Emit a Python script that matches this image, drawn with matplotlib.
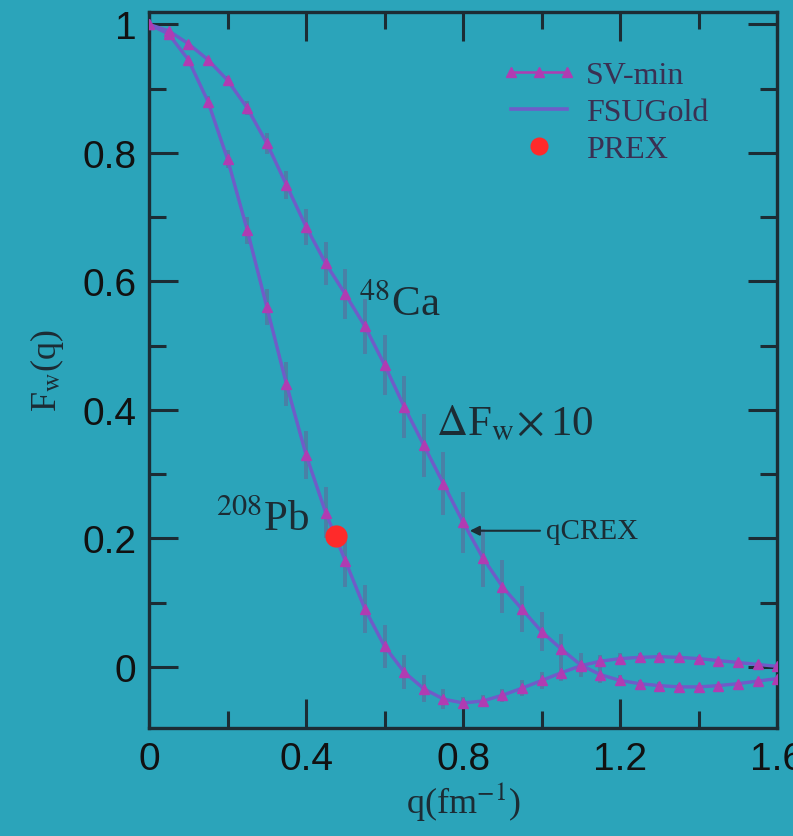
import numpy as np
import matplotlib
matplotlib.use("Agg")
import matplotlib.pyplot as plt
from matplotlib.ticker import MultipleLocator
from matplotlib.legend_handler import HandlerLine2D

# momentum transfer grid (fm^-1)
q_grid = [0.00, 0.05, 0.10, 0.15, 0.20, 0.25, 0.30, 0.35, 0.40, 0.45, 0.50,
          0.55, 0.60, 0.65, 0.70, 0.75, 0.80, 0.85, 0.90, 0.95, 1.00, 1.05,
          1.10, 1.15, 1.20, 1.25, 1.30, 1.35, 1.40, 1.45, 1.50, 1.55, 1.60]

# weak form factor of 208Pb
fw_pb = [1.000, 0.985, 0.945, 0.880, 0.790, 0.680, 0.560, 0.440, 0.330, 0.240, 0.165,
         0.090, 0.032, -0.008, -0.034, -0.050, -0.056, -0.053, -0.044, -0.033, -0.021, -0.009,
         0.002, 0.009, 0.013, 0.015, 0.016, 0.015, 0.013, 0.010, 0.007, 0.004, 0.001]
# error band (Delta F_w x 10) for 208Pb
err_pb = [0.000, 0.001, 0.003, 0.008, 0.014, 0.021, 0.028, 0.034, 0.038, 0.040, 0.040,
          0.037, 0.033, 0.027, 0.021, 0.015, 0.010, 0.009, 0.010, 0.012, 0.013, 0.013,
          0.012, 0.010, 0.008, 0.006, 0.005, 0.004, 0.004, 0.003, 0.003, 0.002, 0.002]

# weak form factor of 48Ca
fw_ca = [1.000, 0.990, 0.970, 0.945, 0.913, 0.870, 0.815, 0.750, 0.685, 0.628, 0.580,
         0.530, 0.470, 0.405, 0.345, 0.285, 0.225, 0.170, 0.125, 0.090, 0.055, 0.028,
         0.003, -0.012, -0.021, -0.026, -0.029, -0.031, -0.031, -0.029, -0.026, -0.022, -0.018]
err_ca = [0.000, 0.001, 0.002, 0.004, 0.007, 0.011, 0.016, 0.022, 0.028, 0.034, 0.039,
          0.043, 0.046, 0.048, 0.049, 0.049, 0.048, 0.045, 0.041, 0.036, 0.030, 0.024,
          0.018, 0.013, 0.009, 0.006, 0.005, 0.004, 0.003, 0.003, 0.003, 0.002, 0.002]

# PREX measurement
prex_q = [0.475]
prex_fw = [0.204]

bg = "#2ba4ba"
ink = "#1c2c34"
c_sv = "#b03cb2"
c_fsu = "#6f5cc8"
c_err = "#4a80a6"

plt.rcParams["mathtext.fontset"] = "stix"
serif = ["Liberation Serif", "DejaVu Serif"]
sans = ["Liberation Sans", "DejaVu Sans"]

fig = plt.figure(figsize=(7.93, 8.37), dpi=100, facecolor=bg)
ax = fig.add_axes([0.188, 0.129, 0.792, 0.856], facecolor=bg)

for fw, err in [(fw_pb, err_pb), (fw_ca, err_ca)]:
    ax.errorbar(q_grid, fw, yerr=err, fmt="none", ecolor=c_err, elinewidth=2.8,
                capsize=0, zorder=2)
    ax.plot(q_grid, fw, color=c_sv, lw=1.5, zorder=3)
    ax.plot(q_grid, fw, color=c_fsu, lw=2.4, zorder=3.5)
    ax.plot(q_grid, fw, ls="none", marker="^", ms=6.5, color=c_sv, mec=c_sv, zorder=4)

ax.plot(prex_q, prex_fw, "o", color="#ff2a2a", ms=15, mec="#ff2a2a", zorder=5)

# legend entries
h_sv, = ax.plot([], [], color=c_sv, lw=1.8, marker="^", ms=7)
h_fsu, = ax.plot([], [], color=c_fsu, lw=2.6)
h_prex, = ax.plot([], [], "o", color="#ff2a2a", ms=12)
ax.legend([h_sv, h_fsu, h_prex], ["SV-min", "FSUGold", "PREX"], loc="upper left",
          bbox_to_anchor=(0.515, 0.972), frameon=False,
          prop={"family": serif, "size": 23}, handlelength=2.35, labelspacing=0.25,
          handletextpad=0.3, labelcolor="#3a3052", numpoints=3,
          handler_map={h_prex: HandlerLine2D(numpoints=1)})

ax.text(0.535, 0.565, r"$^{48}$Ca", family=serif, fontsize=31, color=ink, va="center")
ax.text(0.73, 0.378, r"$\Delta$F$_{\rm w}\!\times$10", family=serif, fontsize=31,
        color=ink, va="center")
ax.text(0.17, 0.23, r"$^{208}$Pb", family=serif, fontsize=31, color=ink, va="center")
ax.annotate("qCREX", xy=(0.81, 0.212), xytext=(1.01, 0.212), family=serif, fontsize=21,
            color=ink, va="center",
            arrowprops=dict(arrowstyle="-|>", color=ink, lw=1.5, mutation_scale=14))

ax.set_xlim(0, 1.6)
ax.set_ylim(-0.095, 1.02)
ax.xaxis.set_minor_locator(MultipleLocator(0.2))
ax.yaxis.set_minor_locator(MultipleLocator(0.1))
ax.set_xticks([0, 0.4, 0.8, 1.2, 1.6])
ax.set_xticklabels(["0", "0.4", "0.8", "1.2", "1.6"])
ax.set_yticks([0, 0.2, 0.4, 0.6, 0.8, 1.0])
ax.set_yticklabels(["0", "0.2", "0.4", "0.6", "0.8", "1"])

ax.tick_params(which="both", direction="in", top=True, right=True, color=ink, width=2.2,
               labelsize=28, labelcolor="#111111", pad=9)
ax.tick_params(which="major", length=21)
ax.tick_params(which="minor", length=12)
for lab in ax.get_xticklabels() + ax.get_yticklabels():
    lab.set_family(sans)
for sp in ax.spines.values():
    sp.set_color(ink)
    sp.set_linewidth(2.4)

ax.set_xlabel(r"q(fm$^{-1}$)", family=serif, fontsize=26, color=ink, labelpad=2)
ax.set_ylabel(r"F$_{\rm w}$(q)", family=serif, fontsize=26, color=ink, labelpad=12)

fig.savefig("out.png", dpi=100, facecolor=bg)
